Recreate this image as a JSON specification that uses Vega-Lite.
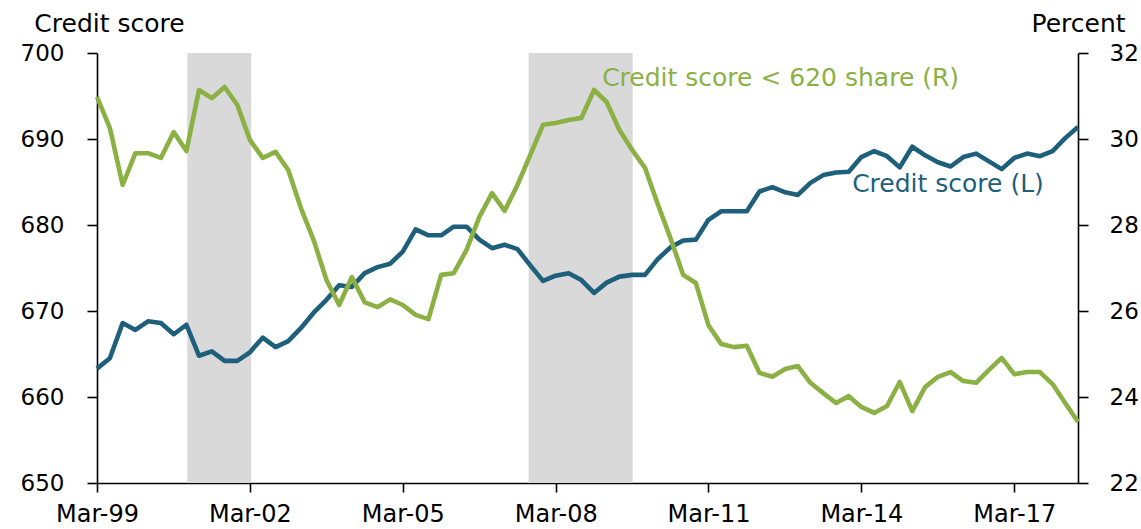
{
  "$schema": "https://vega.github.io/schema/vega-lite/v6.json",
  "width": 981,
  "height": 430,
  "autosize": {"type": "none"},
  "padding": {"left": 97, "top": 53, "right": 63, "bottom": 46},
  "background": "white",
  "config": {
    "view": {"stroke": null},
    "font": "DejaVu Sans",
    "axis": {
      "domainColor": "black",
      "domainWidth": 1.6,
      "tickColor": "black",
      "tickWidth": 1.6,
      "grid": false,
      "labelColor": "black",
      "titleColor": "black",
      "labelFont": "DejaVu Sans",
      "titleFont": "DejaVu Sans",
      "titleFontWeight": "normal"
    }
  },
  "datasets": {
    "rec": [
      {"start": "2000-12-07T00:00", "end": "2002-03-10T00:00"},
      {"start": "2007-08-20T00:00", "end": "2009-09-04T00:00"}
    ],
    "series": [
      {"date": "1999-03-01T00:00", "score": 663.3, "share": 30.98},
      {"date": "1999-06-01T00:00", "score": 664.5, "share": 30.26},
      {"date": "1999-09-01T00:00", "score": 668.6, "share": 28.93},
      {"date": "1999-12-01T00:00", "score": 667.8, "share": 29.67},
      {"date": "2000-03-01T00:00", "score": 668.8, "share": 29.67},
      {"date": "2000-06-01T00:00", "score": 668.6, "share": 29.56},
      {"date": "2000-09-01T00:00", "score": 667.3, "share": 30.16},
      {"date": "2000-12-01T00:00", "score": 668.4, "share": 29.72},
      {"date": "2001-03-01T00:00", "score": 664.8, "share": 31.14},
      {"date": "2001-06-01T00:00", "score": 665.3, "share": 30.95},
      {"date": "2001-09-01T00:00", "score": 664.2, "share": 31.21},
      {"date": "2001-12-01T00:00", "score": 664.2, "share": 30.79},
      {"date": "2002-03-01T00:00", "score": 665.2, "share": 29.98},
      {"date": "2002-06-01T00:00", "score": 666.9, "share": 29.56},
      {"date": "2002-09-01T00:00", "score": 665.8, "share": 29.70},
      {"date": "2002-12-01T00:00", "score": 666.5, "share": 29.28},
      {"date": "2003-03-01T00:00", "score": 668.0, "share": 28.40},
      {"date": "2003-06-01T00:00", "score": 669.8, "share": 27.65},
      {"date": "2003-09-01T00:00", "score": 671.3, "share": 26.72},
      {"date": "2003-12-01T00:00", "score": 673.0, "share": 26.14},
      {"date": "2004-03-01T00:00", "score": 672.8, "share": 26.79},
      {"date": "2004-06-01T00:00", "score": 674.4, "share": 26.20},
      {"date": "2004-09-01T00:00", "score": 675.1, "share": 26.09},
      {"date": "2004-12-01T00:00", "score": 675.5, "share": 26.27},
      {"date": "2005-03-01T00:00", "score": 676.9, "share": 26.14},
      {"date": "2005-06-01T00:00", "score": 679.5, "share": 25.91},
      {"date": "2005-09-01T00:00", "score": 678.8, "share": 25.81},
      {"date": "2005-12-01T00:00", "score": 678.8, "share": 26.84},
      {"date": "2006-03-01T00:00", "score": 679.8, "share": 26.88},
      {"date": "2006-06-01T00:00", "score": 679.8, "share": 27.42},
      {"date": "2006-09-01T00:00", "score": 678.3, "share": 28.19},
      {"date": "2006-12-01T00:00", "score": 677.3, "share": 28.74},
      {"date": "2007-03-01T00:00", "score": 677.7, "share": 28.33},
      {"date": "2007-06-01T00:00", "score": 677.2, "share": 28.93},
      {"date": "2007-09-01T00:00", "score": 675.3, "share": 29.63},
      {"date": "2007-12-01T00:00", "score": 673.5, "share": 30.33},
      {"date": "2008-03-01T00:00", "score": 674.1, "share": 30.37},
      {"date": "2008-06-01T00:00", "score": 674.4, "share": 30.44},
      {"date": "2008-09-01T00:00", "score": 673.6, "share": 30.49},
      {"date": "2008-12-01T00:00", "score": 672.1, "share": 31.14},
      {"date": "2009-03-01T00:00", "score": 673.3, "share": 30.86},
      {"date": "2009-06-01T00:00", "score": 674.0, "share": 30.21},
      {"date": "2009-09-01T00:00", "score": 674.2, "share": 29.74},
      {"date": "2009-12-01T00:00", "score": 674.2, "share": 29.33},
      {"date": "2010-03-01T00:00", "score": 676.0, "share": 28.5},
      {"date": "2010-06-01T00:00", "score": 677.4, "share": 27.7},
      {"date": "2010-09-01T00:00", "score": 678.2, "share": 26.84},
      {"date": "2010-12-01T00:00", "score": 678.3, "share": 26.65},
      {"date": "2011-03-01T00:00", "score": 680.6, "share": 25.67},
      {"date": "2011-06-01T00:00", "score": 681.6, "share": 25.23},
      {"date": "2011-09-01T00:00", "score": 681.6, "share": 25.16},
      {"date": "2011-12-01T00:00", "score": 681.6, "share": 25.19},
      {"date": "2012-03-01T00:00", "score": 683.9, "share": 24.56},
      {"date": "2012-06-01T00:00", "score": 684.4, "share": 24.47},
      {"date": "2012-09-01T00:00", "score": 683.8, "share": 24.65},
      {"date": "2012-12-01T00:00", "score": 683.5, "share": 24.72},
      {"date": "2013-03-01T00:00", "score": 684.9, "share": 24.33},
      {"date": "2013-06-01T00:00", "score": 685.8, "share": 24.09},
      {"date": "2013-09-01T00:00", "score": 686.1, "share": 23.86},
      {"date": "2013-12-01T00:00", "score": 686.2, "share": 24.02},
      {"date": "2014-03-01T00:00", "score": 687.9, "share": 23.77},
      {"date": "2014-06-01T00:00", "score": 688.6, "share": 23.63},
      {"date": "2014-09-01T00:00", "score": 688.0, "share": 23.79},
      {"date": "2014-12-01T00:00", "score": 686.7, "share": 24.35},
      {"date": "2015-03-01T00:00", "score": 689.1, "share": 23.67},
      {"date": "2015-06-01T00:00", "score": 688.1, "share": 24.23},
      {"date": "2015-09-01T00:00", "score": 687.3, "share": 24.47},
      {"date": "2015-12-01T00:00", "score": 686.8, "share": 24.58},
      {"date": "2016-03-01T00:00", "score": 687.9, "share": 24.37},
      {"date": "2016-06-01T00:00", "score": 688.3, "share": 24.33},
      {"date": "2016-09-01T00:00", "score": 687.4, "share": 24.63},
      {"date": "2016-12-01T00:00", "score": 686.5, "share": 24.91},
      {"date": "2017-03-01T00:00", "score": 687.8, "share": 24.53},
      {"date": "2017-06-01T00:00", "score": 688.3, "share": 24.58},
      {"date": "2017-09-01T00:00", "score": 688.0, "share": 24.58},
      {"date": "2017-12-01T00:00", "score": 688.6, "share": 24.30},
      {"date": "2018-03-01T00:00", "score": 690.1, "share": 23.86},
      {"date": "2018-06-01T00:00", "score": 691.4, "share": 23.42}
    ],
    "labScore": [
      {"date": "2013-12-25T00:00", "value": 683.84, "text": "Credit score (L)"}
    ],
    "labShare": [
      {"date": "2009-01-28T00:00", "value": 31.23, "text": "Credit score < 620 share (R)"}
    ]
  },
  "layer": [
    {
      "data": {"name": "rec"},
      "mark": {"type": "rect", "color": "#d9d9d9"},
      "encoding": {
        "x": {
          "field": "start",
          "type": "temporal",
          "scale": {
            "domain": [
              {"year": 1999, "month": "mar", "date": 1},
              {"year": 2018, "month": "jun", "date": 1}
            ],
            "nice": false,
            "padding": 0
          },
          "axis": {
            "title": null,
            "format": "%b-%y",
            "values": [
              {"year": 1999, "month": "mar", "date": 1},
              {"year": 2002, "month": "mar", "date": 1},
              {"year": 2005, "month": "mar", "date": 1},
              {"year": 2008, "month": "mar", "date": 1},
              {"year": 2011, "month": "mar", "date": 1},
              {"year": 2014, "month": "mar", "date": 1},
              {"year": 2017, "month": "mar", "date": 1}
            ],
            "tickSize": 9,
            "labelPadding": 10,
            "labelFontSize": 24,
            "labelBaseline": "top",
            "labelAlign": "center",
            "labelFlush": false,
            "labelOverlap": false
          }
        },
        "x2": {"field": "end"}
      }
    },
    {
      "layer": [
        {
          "data": {"name": "series"},
          "mark": {"type": "line", "color": "#1e5f7b", "strokeWidth": 4.6, "strokeJoin": "round"},
          "encoding": {
            "x": {"field": "date", "type": "temporal"},
            "y": {
              "field": "score",
              "type": "quantitative",
              "scale": {"domain": [650, 700], "nice": false, "zero": false},
              "axis": {
                "orient": "left",
                "values": [650, 660, 670, 680, 690, 700],
                "title": "Credit score",
                "titleAngle": 0,
                "titleAlign": "center",
                "titleBaseline": "alphabetic",
                "titleX": 12,
                "titleY": -21.5,
                "titleFontSize": 25,
                "tickSize": 10,
                "labelPadding": 23,
                "labelFontSize": 23
              }
            }
          }
        },
        {
          "data": {"name": "labScore"},
          "mark": {"type": "text", "color": "#1e5f7b", "fontSize": 25, "align": "left", "baseline": "alphabetic", "font": "DejaVu Sans"},
          "encoding": {
            "x": {"field": "date", "type": "temporal"},
            "y": {"field": "value", "type": "quantitative"},
            "text": {"field": "text"}
          }
        }
      ]
    },
    {
      "layer": [
        {
          "data": {"name": "series"},
          "mark": {"type": "line", "color": "#8bb044", "strokeWidth": 4.6, "strokeJoin": "round"},
          "encoding": {
            "x": {"field": "date", "type": "temporal"},
            "y": {
              "field": "share",
              "type": "quantitative",
              "scale": {"domain": [22, 32], "nice": false, "zero": false},
              "axis": {
                "orient": "right",
                "values": [22, 24, 26, 28, 30, 32],
                "title": "Percent",
                "titleAngle": 0,
                "titleAlign": "center",
                "titleBaseline": "alphabetic",
                "titleX": 0,
                "titleY": -21.5,
                "titleFontSize": 25,
                "tickSize": 10,
                "labelPadding": 21,
                "labelFontSize": 23
              }
            }
          }
        },
        {
          "data": {"name": "labShare"},
          "mark": {"type": "text", "color": "#8bb044", "fontSize": 25, "align": "left", "baseline": "alphabetic", "font": "DejaVu Sans"},
          "encoding": {
            "x": {"field": "date", "type": "temporal"},
            "y": {"field": "value", "type": "quantitative"},
            "text": {"field": "text"}
          }
        }
      ]
    }
  ],
  "resolve": {"scale": {"y": "independent"}}
}
